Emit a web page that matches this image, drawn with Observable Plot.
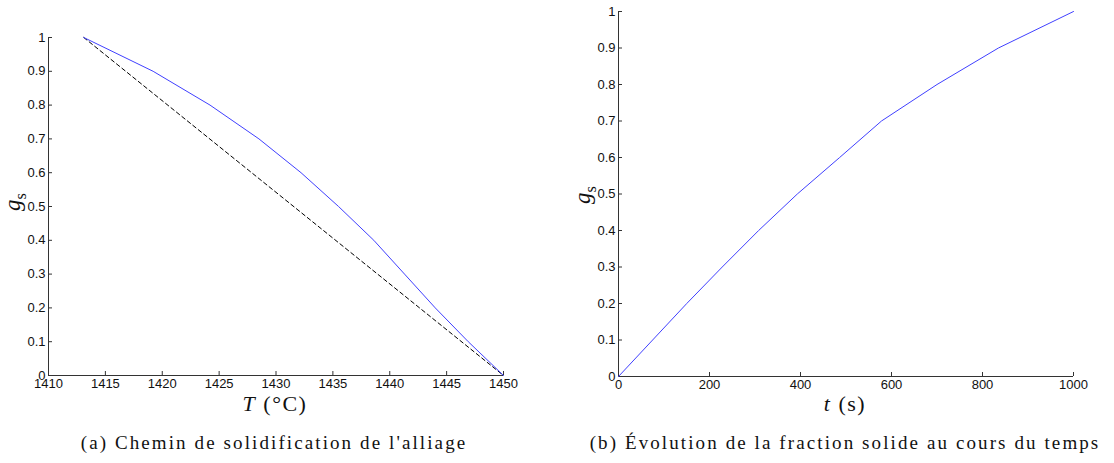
<!DOCTYPE html>
<html><head><meta charset="utf-8">
<script src="https://cdn.jsdelivr.net/npm/d3@7"></script>
<script src="https://cdn.jsdelivr.net/npm/@observablehq/plot@0.6"></script>
<style>
body{margin:0;background:#fff;}
#wrap{position:relative;width:1114px;height:463px;overflow:hidden;background:#fff;}
.panel{position:absolute;top:0;}
.lbl{position:absolute;font-family:"Liberation Serif","DejaVu Serif",serif;white-space:nowrap;color:#111;line-height:1;}
.rot{transform:translate(-50%,-50%) rotate(-90deg);}
.ctr{transform:translateX(-50%);}
</style></head><body><div id="wrap"></div>
<script>
// Panel (a): solidification path
const gsLevelsA = [1, 0.9, 0.8, 0.7, 0.6, 0.5, 0.4, 0.3, 0.2, 0.1, 0];
const tempA = [1413.1, 1419.2, 1424.2, 1428.5, 1432.2, 1435.5, 1438.6, 1441.3, 1444.0, 1446.9, 1450];
const leverT = [1413.1, 1450];
const leverGs = [1, 0];
const xTicksA = [1410, 1415, 1420, 1425, 1430, 1435, 1440, 1445, 1450];
// Panel (b): solid fraction vs time
const timeB = [0, 75, 150, 228, 308, 393, 486, 578, 700, 835, 1000];
const gsB = [0, 0.1, 0.2, 0.3, 0.4, 0.5, 0.6, 0.7, 0.8, 0.9, 1];
const xTicksB = [0, 200, 400, 600, 800, 1000];
const yTicks = [0, 0.1, 0.2, 0.3, 0.4, 0.5, 0.6, 0.7, 0.8, 0.9, 1];

const blue = "#4040ff";
const axisColor = "#333";
const style = {fontFamily: "'Liberation Sans', Arial, sans-serif", fontSize: "13px", color: "#111", background: "transparent"};

const dataA = tempA.map((T, i) => ({T, gs: gsLevelsA[i]}));
const dataLever = leverT.map((T, i) => ({T, gs: leverGs[i]}));
const dataB = timeB.map((t, i) => ({t, gs: gsB[i]}));

const plotA = Plot.plot({
  width: 557, height: 420,
  marginLeft: 48, marginRight: 54, marginTop: 37, marginBottom: 45,
  x: {domain: [1410, 1450]},
  y: {domain: [0, 1]},
  style,
  marks: [
    Plot.axisY(yTicks, {tickSize: -4, tickPadding: 7, tickFormat: d => String(d), label: null, stroke: axisColor}),
    Plot.axisX(xTicksA, {tickSize: -4, tickPadding: 7, tickFormat: d => String(d), label: null, stroke: axisColor}),
    Plot.ruleX([1410], {stroke: axisColor}),
    Plot.ruleY([0], {stroke: axisColor}),
    Plot.line(dataLever, {x: "T", y: "gs", stroke: "#000", strokeWidth: 1, strokeDasharray: "4,3"}),
    Plot.line(dataA, {x: "T", y: "gs", stroke: blue, strokeWidth: 1})
  ]
});

const plotB = Plot.plot({
  width: 557, height: 420,
  marginLeft: 61, marginRight: 41, marginTop: 11, marginBottom: 44,
  x: {domain: [0, 1000]},
  y: {domain: [0, 1]},
  style,
  marks: [
    Plot.axisY(yTicks, {tickSize: -4, tickPadding: 7, tickFormat: d => String(d), label: null, stroke: axisColor}),
    Plot.axisX(xTicksB, {tickSize: -4, tickPadding: 7, tickFormat: d => String(d), label: null, stroke: axisColor}),
    Plot.ruleX([0], {stroke: axisColor}),
    Plot.ruleY([0], {stroke: axisColor}),
    Plot.line(dataB, {x: "t", y: "gs", stroke: blue, strokeWidth: 1})
  ]
});

const wrap = document.getElementById("wrap");
plotA.classList.add("panel"); plotA.style.left = "0px";
plotB.classList.add("panel"); plotB.style.left = "557px";
wrap.appendChild(plotA);
wrap.appendChild(plotB);

function addLabel(html, x, y, size, cls, spacing) {
  const d = document.createElement("div");
  d.className = "lbl " + cls;
  d.style.left = x + "px";
  d.style.top = y + "px";
  d.style.fontSize = size + "px";
  if (spacing) d.style.letterSpacing = spacing + "px";
  d.innerHTML = html;
  wrap.appendChild(d);
}
addLabel('<i>g</i><sub style="font-size:70%">s</sub>', 15, 202, 23, "rot");
addLabel('<i>g</i><sub style="font-size:70%">s</sub>', 585, 195, 23, "rot");
addLabel('<i>T</i> (°C)', 275, 393, 22, "ctr", 1.5);
addLabel('<i>t</i> (s)', 845, 393, 22, "ctr", 1.5);
addLabel("(a) Chemin de solidification de l'alliage", 274, 433, 19, "ctr", 2.1);
addLabel("(b) Évolution de la fraction solide au cours du temps", 845, 433, 19, "ctr", 2.1);
</script>
</body></html>
